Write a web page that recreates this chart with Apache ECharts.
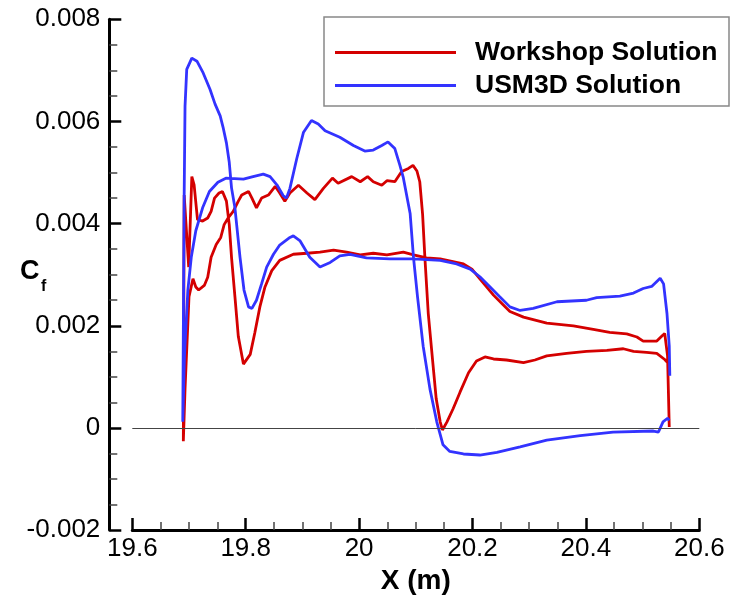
<!DOCTYPE html>
<html>
<head>
<meta charset="utf-8">
<title>Skin friction</title>
<script src="https://cdn.jsdelivr.net/npm/echarts@6/dist/echarts.min.js"></script>
<style>
  html, body { margin: 0; padding: 0; background: #fff; }
  #chart { width: 733px; height: 600px; }
</style>
</head>
<body>
<div id="chart"></div>
<script>
// Axis tick values
const xTicks = [19.6, 19.8, 20.0, 20.2, 20.4, 20.6];
const yTicks = [-0.002, 0, 0.002, 0.004, 0.006, 0.008];

// Workshop solution: side with the leading-edge spike and the dip near x = 19.8
const workshopSideA = [
  [19.690, -0.00026], [19.6915, 0.00456], [19.6995, 0.00315], [19.705, 0.00492],
  [19.709, 0.00476], [19.715, 0.00408], [19.724, 0.00405], [19.733, 0.00411],
  [19.739, 0.00424], [19.745, 0.00450], [19.753, 0.00460], [19.759, 0.00463],
  [19.766, 0.00444], [19.771, 0.00398], [19.775, 0.00334], [19.781, 0.00257],
  [19.787, 0.00179], [19.796, 0.00125], [19.808, 0.00144], [19.816, 0.00186],
  [19.825, 0.00237], [19.834, 0.00276], [19.846, 0.00308], [19.860, 0.00328],
  [19.884, 0.00340], [19.908, 0.00342], [19.931, 0.00344], [19.955, 0.00348],
  [19.978, 0.00344], [20.002, 0.00339], [20.025, 0.00342], [20.049, 0.00339],
  [20.078, 0.00344], [20.096, 0.00339], [20.119, 0.00333], [20.143, 0.00331],
  [20.184, 0.00321], [20.199, 0.00311], [20.213, 0.00292], [20.237, 0.00260],
  [20.254, 0.00241], [20.266, 0.00228], [20.290, 0.00217], [20.331, 0.00205],
  [20.378, 0.00200], [20.413, 0.00193], [20.442, 0.00187], [20.472, 0.00184],
  [20.490, 0.00178], [20.501, 0.00170], [20.525, 0.00170], [20.535, 0.00181],
  [20.539, 0.00185], [20.544, 0.00141], [20.547, 0.00002]
];

// Workshop solution: side with the high plateau and the drop near x = 20.14
const workshopSideB = [
  [19.690, -0.00026], [19.693, 0.00076], [19.698, 0.00205], [19.700, 0.00257],
  [19.707, 0.00292], [19.712, 0.00276], [19.717, 0.00270], [19.727, 0.00279],
  [19.733, 0.00295], [19.739, 0.00334], [19.748, 0.00359], [19.756, 0.00373],
  [19.762, 0.00398], [19.769, 0.00411], [19.778, 0.00424], [19.787, 0.00444],
  [19.793, 0.00456], [19.805, 0.00463], [19.811, 0.00450], [19.819, 0.00431],
  [19.828, 0.00450], [19.840, 0.00456], [19.852, 0.00473], [19.860, 0.00460],
  [19.869, 0.00444], [19.878, 0.00460], [19.893, 0.00475], [19.908, 0.00460],
  [19.922, 0.00447], [19.937, 0.00469], [19.953, 0.00489], [19.963, 0.00479],
  [19.987, 0.00492], [20.002, 0.00482], [20.015, 0.00492], [20.025, 0.00482],
  [20.040, 0.00475], [20.049, 0.00484], [20.063, 0.00482], [20.075, 0.00502],
  [20.087, 0.00508], [20.095, 0.00514], [20.102, 0.00503], [20.107, 0.00482],
  [20.112, 0.00418], [20.116, 0.00334], [20.122, 0.00224], [20.130, 0.00128],
  [20.136, 0.00057], [20.143, 0.00012], [20.147, -0.00004], [20.155, 0.00012],
  [20.166, 0.00038], [20.178, 0.00070], [20.193, 0.00108], [20.207, 0.00131],
  [20.222, 0.00139], [20.237, 0.00135], [20.260, 0.00133], [20.290, 0.00128],
  [20.310, 0.00133], [20.331, 0.00141], [20.366, 0.00146], [20.401, 0.00150],
  [20.437, 0.00152], [20.466, 0.00155], [20.484, 0.00150], [20.507, 0.00148],
  [20.525, 0.00146], [20.539, 0.00134], [20.544, 0.00128]
];

// USM3D solution: side with the leading-edge peak and the dip near x = 19.81
const usm3dSideA = [
  [19.689, 0.00012], [19.6915, 0.00456], [19.693, 0.00630], [19.696, 0.00702],
  [19.705, 0.00724], [19.714, 0.00718], [19.725, 0.00695], [19.737, 0.00663],
  [19.746, 0.00634], [19.755, 0.00611], [19.760, 0.00589], [19.766, 0.00558],
  [19.771, 0.00520], [19.775, 0.00470], [19.781, 0.00431], [19.790, 0.00334],
  [19.797, 0.00270], [19.805, 0.00237], [19.811, 0.00234], [19.819, 0.00250],
  [19.828, 0.00282], [19.837, 0.00315], [19.849, 0.00340], [19.860, 0.00358],
  [19.878, 0.00373], [19.884, 0.00376], [19.896, 0.00366], [19.913, 0.00334],
  [19.931, 0.00315], [19.949, 0.00324], [19.966, 0.00337], [19.984, 0.00340],
  [20.013, 0.00333], [20.054, 0.00331], [20.096, 0.00331], [20.143, 0.00328],
  [20.172, 0.00321], [20.196, 0.00311], [20.213, 0.00296], [20.231, 0.00276],
  [20.248, 0.00257], [20.266, 0.00237], [20.284, 0.00230], [20.307, 0.00234],
  [20.349, 0.00247], [20.401, 0.00250], [20.419, 0.00255], [20.460, 0.00258],
  [20.484, 0.00264], [20.501, 0.00273], [20.516, 0.00277], [20.531, 0.00293],
  [20.537, 0.00282], [20.543, 0.00224], [20.547, 0.00160], [20.548, 0.00102]
];

// USM3D solution: side with the high plateau and the separated region after x = 20.14
const usm3dSideB = [
  [19.689, 0.00012], [19.692, 0.00141], [19.698, 0.00270], [19.704, 0.00334],
  [19.712, 0.00386], [19.724, 0.00431], [19.736, 0.00463], [19.751, 0.00481],
  [19.765, 0.00489], [19.796, 0.00487], [19.813, 0.00492], [19.831, 0.00497],
  [19.843, 0.00492], [19.855, 0.00476], [19.866, 0.00455], [19.872, 0.00450],
  [19.878, 0.00469], [19.890, 0.00527], [19.902, 0.00579], [19.916, 0.00602],
  [19.928, 0.00595], [19.940, 0.00582], [19.966, 0.00569], [19.990, 0.00553],
  [20.010, 0.00542], [20.025, 0.00544], [20.040, 0.00553], [20.051, 0.00560],
  [20.063, 0.00547], [20.072, 0.00514], [20.078, 0.00490], [20.090, 0.00420],
  [20.096, 0.00333], [20.103, 0.00257], [20.113, 0.00160], [20.125, 0.00076],
  [20.137, 0.00012], [20.148, -0.00033], [20.160, -0.00046], [20.184, -0.00051],
  [20.213, -0.00053], [20.243, -0.00048], [20.284, -0.00037], [20.331, -0.00024],
  [20.390, -0.00015], [20.448, -0.00008], [20.519, -0.00006], [20.528, -0.00008],
  [20.536, 0.00012], [20.544, 0.00019], [20.547, 0.00015]
];

const seriesNames = ['Workshop Solution', 'USM3D Solution'];
const seriesColors = ['#d40000', '#3333ff'];

// Each solution is one path: around the trailing edge to the leading edge on
// side B, then back along side A.
function loop(sideA, sideB) {
  return sideB.slice().reverse().concat(sideA.slice(1));
}

const FONT = 'Liberation Sans, Arial, Helvetica, sans-serif';

const chart = echarts.init(document.getElementById('chart'), null, { renderer: 'canvas' });

const yFmt = v => (Math.abs(v) < 1e-12 ? '0' : v.toFixed(3));
const xFmt = v => String(+v.toFixed(1));

chart.setOption({
  animation: false,
  backgroundColor: '#ffffff',
  grid: { left: 132.3, right: 33.7, top: 19.3, bottom: 64, containLabel: false },
  xAxis: {
    type: 'value',
    min: xTicks[0],
    max: xTicks[xTicks.length - 1],
    interval: 0.2,
    name: 'X (m)',
    nameLocation: 'middle',
    nameGap: 34,
    nameTextStyle: { fontFamily: FONT, fontSize: 28, fontWeight: 'bold', color: '#000' },
    axisLine: { show: true, onZero: false, lineStyle: { color: '#000', width: 3 } },
    axisTick: { show: true, inside: true, length: 12, lineStyle: { color: '#000', width: 2.5 } },
    minorTick: { show: true, splitNumber: 4, length: 8, lineStyle: { color: '#444', width: 1.5 } },
    axisLabel: { margin: 6, fontFamily: FONT, fontSize: 26, color: '#000', formatter: xFmt },
    splitLine: { show: false }
  },
  yAxis: {
    type: 'value',
    min: yTicks[0],
    max: yTicks[yTicks.length - 1],
    interval: 0.002,
    offset: 23,
    axisLine: { show: true, onZero: false, lineStyle: { color: '#000', width: 3 } },
    axisTick: { show: true, inside: true, length: 12, lineStyle: { color: '#000', width: 2.5 } },
    minorTick: { show: true, splitNumber: 4, length: 8, lineStyle: { color: '#444', width: 1.5 } },
    axisLabel: { margin: 9, fontFamily: FONT, fontSize: 26, color: '#000', formatter: yFmt },
    splitLine: { show: false }
  },
  legend: {
    data: seriesNames,
    orient: 'vertical',
    left: 335,
    top: 39,
    padding: 0,
    icon: 'rect',
    itemWidth: 121,
    itemHeight: 3,
    itemGap: 6,
    textStyle: {
      fontFamily: FONT, fontSize: 26.5, fontWeight: 'bold', color: '#000',
      lineHeight: 26, padding: [0, 0, 0, 14]
    }
  },
  graphic: [
    {
      type: 'rect',
      shape: { x: 324, y: 17, width: 405, height: 89 },
      style: { fill: 'rgba(0,0,0,0)', stroke: '#888', lineWidth: 1.5 },
      silent: true, z: 0
    },
    {
      type: 'text',
      style: { text: 'C', x: 20, y: 272, font: 'bold 27px ' + FONT, fill: '#000', textVerticalAlign: 'middle' },
      silent: true
    },
    {
      type: 'text',
      style: { text: 'f', x: 41, y: 287, font: 'bold 16px ' + FONT, fill: '#000', textVerticalAlign: 'middle' },
      silent: true
    }
  ],
  series: [
    {
      name: seriesNames[0],
      type: 'line',
      data: loop(workshopSideA, workshopSideB),
      symbol: 'none',
      color: seriesColors[0],
      lineStyle: { color: seriesColors[0], width: 2.8 },
      markLine: {
        silent: true,
        symbol: ['none', 'none'],
        label: { show: false },
        lineStyle: { color: '#444', width: 1, type: 'solid' },
        data: [{ yAxis: 0 }]
      },
      z: 2
    },
    {
      name: seriesNames[1],
      type: 'line',
      data: loop(usm3dSideA, usm3dSideB),
      symbol: 'none',
      color: seriesColors[1],
      lineStyle: { color: seriesColors[1], width: 2.8 },
      z: 3
    }
  ]
});
</script>
</body>
</html>
